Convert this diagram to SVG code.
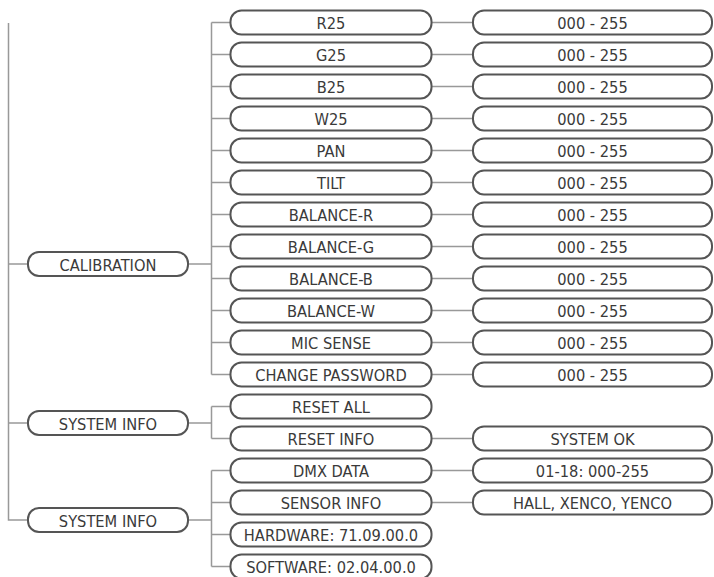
<svg xmlns="http://www.w3.org/2000/svg" width="714" height="577" viewBox="0 0 714 577">
<style>
.p{fill:#fff;stroke:#555;stroke-width:2}
.t{font-family:"DejaVu Sans Condensed","DejaVu Sans",sans-serif;font-size:16.3px;fill:#3a3a3a;text-anchor:middle}
.c{fill:none;stroke:#999;stroke-width:1.5}
</style>
<defs>
<rect id="pl" x="0" y="-12" width="160" height="24" rx="11" class="p"/>
<rect id="pm" x="0" y="-12" width="201" height="24" rx="11" class="p"/>
<rect id="pr" x="0" y="-12" width="239" height="24" rx="11" class="p"/>
</defs>
<g id="connectors" class="c">
<path d="M8.5 23V520H28M8.5 264H28M8.5 423H28"/>
<path d="M188 264H211.5M211.5 22.5V374.5M211.5 22.5H230M211.5 54.5H230M211.5 86.5H230M211.5 118.5H230M211.5 150.5H230M211.5 182.5H230M211.5 214.5H230M211.5 246.5H230M211.5 278.5H230M211.5 310.5H230M211.5 342.5H230M211.5 374.5H230"/>
<path d="M188 423H211.5M211.5 406.5V438.5M211.5 406.5H230M211.5 438.5H230"/>
<path d="M188 520H211.5M211.5 470.5V566.5M211.5 470.5H230M211.5 502.5H230M211.5 534.5H230M211.5 566.5H230"/>
<path d="M431 22.5H473M431 54.5H473M431 86.5H473M431 118.5H473M431 150.5H473M431 182.5H473M431 214.5H473M431 246.5H473M431 278.5H473M431 310.5H473M431 342.5H473M431 374.5H473M431 438.5H473M431 470.5H473M431 502.5H473"/>
</g>
<g id="calibration" transform="translate(28,264)"><use href="#pl"/><text class="t" x="80" y="6.8">CALIBRATION</text></g>
<g id="system-info-1" transform="translate(28,423)"><use href="#pl"/><text class="t" x="80" y="6.8">SYSTEM INFO</text></g>
<g id="system-info-2" transform="translate(28,520)"><use href="#pl"/><text class="t" x="80" y="6.8">SYSTEM INFO</text></g>

<g id="r25" transform="translate(230.5,22.5)"><use href="#pm"/><text class="t" x="100.5" y="6.8">R25</text></g>
<g id="g25" transform="translate(230.5,54.5)"><use href="#pm"/><text class="t" x="100.5" y="6.8">G25</text></g>
<g id="b25" transform="translate(230.5,86.5)"><use href="#pm"/><text class="t" x="100.5" y="6.8">B25</text></g>
<g id="w25" transform="translate(230.5,118.5)"><use href="#pm"/><text class="t" x="100.5" y="6.8">W25</text></g>
<g id="pan" transform="translate(230.5,150.5)"><use href="#pm"/><text class="t" x="100.5" y="6.8">PAN</text></g>
<g id="tilt" transform="translate(230.5,182.5)"><use href="#pm"/><text class="t" x="100.5" y="6.8">TILT</text></g>
<g id="balance-r" transform="translate(230.5,214.5)"><use href="#pm"/><text class="t" x="100.5" y="6.8">BALANCE-R</text></g>
<g id="balance-g" transform="translate(230.5,246.5)"><use href="#pm"/><text class="t" x="100.5" y="6.8">BALANCE-G</text></g>
<g id="balance-b" transform="translate(230.5,278.5)"><use href="#pm"/><text class="t" x="100.5" y="6.8">BALANCE-B</text></g>
<g id="balance-w" transform="translate(230.5,310.5)"><use href="#pm"/><text class="t" x="100.5" y="6.8">BALANCE-W</text></g>
<g id="mic-sense" transform="translate(230.5,342.5)"><use href="#pm"/><text class="t" x="100.5" y="6.8">MIC SENSE</text></g>
<g id="change-password" transform="translate(230.5,374.5)"><use href="#pm"/><text class="t" x="100.5" y="6.8">CHANGE PASSWORD</text></g>
<g id="reset-all" transform="translate(230.5,406.5)"><use href="#pm"/><text class="t" x="100.5" y="6.8">RESET ALL</text></g>
<g id="reset-info" transform="translate(230.5,438.5)"><use href="#pm"/><text class="t" x="100.5" y="6.8">RESET INFO</text></g>
<g id="dmx-data" transform="translate(230.5,470.5)"><use href="#pm"/><text class="t" x="100.5" y="6.8">DMX DATA</text></g>
<g id="sensor-info" transform="translate(230.5,502.5)"><use href="#pm"/><text class="t" x="100.5" y="6.8">SENSOR INFO</text></g>
<g id="hardware" transform="translate(230.5,534.5)"><use href="#pm"/><text class="t" x="100.5" y="6.8">HARDWARE: 71.09.00.0</text></g>
<g id="software" transform="translate(230.5,566.5)"><use href="#pm"/><text class="t" x="100.5" y="6.8">SOFTWARE: 02.04.00.0</text></g>

<g id="v-r25" transform="translate(473,22.5)"><use href="#pr"/><text class="t" x="119.5" y="6.8">000 - 255</text></g>
<g id="v-g25" transform="translate(473,54.5)"><use href="#pr"/><text class="t" x="119.5" y="6.8">000 - 255</text></g>
<g id="v-b25" transform="translate(473,86.5)"><use href="#pr"/><text class="t" x="119.5" y="6.8">000 - 255</text></g>
<g id="v-w25" transform="translate(473,118.5)"><use href="#pr"/><text class="t" x="119.5" y="6.8">000 - 255</text></g>
<g id="v-pan" transform="translate(473,150.5)"><use href="#pr"/><text class="t" x="119.5" y="6.8">000 - 255</text></g>
<g id="v-tilt" transform="translate(473,182.5)"><use href="#pr"/><text class="t" x="119.5" y="6.8">000 - 255</text></g>
<g id="v-balance-r" transform="translate(473,214.5)"><use href="#pr"/><text class="t" x="119.5" y="6.8">000 - 255</text></g>
<g id="v-balance-g" transform="translate(473,246.5)"><use href="#pr"/><text class="t" x="119.5" y="6.8">000 - 255</text></g>
<g id="v-balance-b" transform="translate(473,278.5)"><use href="#pr"/><text class="t" x="119.5" y="6.8">000 - 255</text></g>
<g id="v-balance-w" transform="translate(473,310.5)"><use href="#pr"/><text class="t" x="119.5" y="6.8">000 - 255</text></g>
<g id="v-mic-sense" transform="translate(473,342.5)"><use href="#pr"/><text class="t" x="119.5" y="6.8">000 - 255</text></g>
<g id="v-change-password" transform="translate(473,374.5)"><use href="#pr"/><text class="t" x="119.5" y="6.8">000 - 255</text></g>
<g id="v-reset-info" transform="translate(473,438.5)"><use href="#pr"/><text class="t" x="119.5" y="6.8">SYSTEM OK</text></g>
<g id="v-dmx-data" transform="translate(473,470.5)"><use href="#pr"/><text class="t" x="119.5" y="6.8">01-18: 000-255</text></g>
<g id="v-sensor-info" transform="translate(473,502.5)"><use href="#pr"/><text class="t" x="119.5" y="6.8">HALL, XENCO, YENCO</text></g>
</svg>
